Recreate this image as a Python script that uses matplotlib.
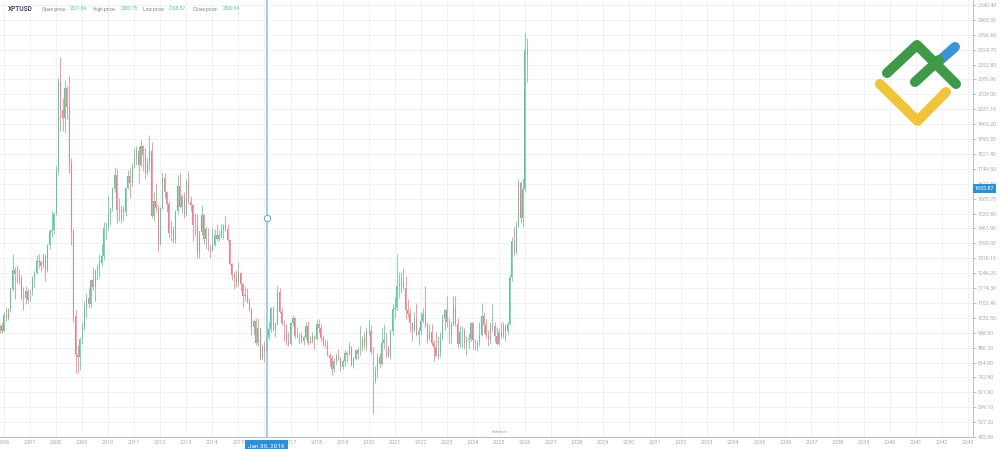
import matplotlib
matplotlib.use("Agg")
import matplotlib.pyplot as plt
import numpy as np

# ---------------- data (monthly OHLC, Nov 2005 .. Feb 2026) ----------------
start_year, start_month = 2005, 11
opens = [962, 990,
 968, 1045, 1030, 1075, 1170, 1260, 1240, 1225, 1215, 1130, 1125, 1160,
 1118, 1160, 1225, 1245, 1305, 1300, 1280, 1330, 1260, 1380, 1450, 1455,
 1530, 1740, 2170, 2035, 1995, 2140, 2050, 1780, 1450, 1040, 850, 840,
 930, 985, 1080, 1125, 1095, 1215, 1180, 1255, 1265, 1295, 1330, 1465,
 1465, 1530, 1560, 1650, 1720, 1550, 1535, 1555, 1540, 1655, 1715, 1680,
 1760, 1800, 1835, 1770, 1860, 1815, 1730, 1780, 1835, 1520, 1595, 1560,
 1385, 1560, 1705, 1640, 1580, 1440, 1450, 1405, 1545, 1665, 1565, 1620,
 1530, 1680, 1590, 1575, 1480, 1475, 1345, 1445, 1525, 1410, 1460, 1365,
 1360, 1380, 1430, 1410, 1430, 1455, 1480, 1460, 1405, 1290, 1235, 1220,
 1205, 1245, 1195, 1135, 1140, 1105, 1075, 985, 1015, 910, 980, 835,
 890, 870, 940, 975, 1080, 970, 1000, 1155, 1060, 1005, 975, 920,
 905, 1005, 1030, 945, 945, 945, 920, 940, 990, 910, 920, 945,
 930, 1000, 980, 935, 900, 900, 850, 835, 785, 820, 845, 835,
 795, 820, 860, 850, 890, 805, 830, 875, 855, 890, 930, 895,
 965, 965, 865, 725, 775, 840, 810, 910, 925, 885, 845, 965,
 1075, 1080, 1185, 1195, 1205, 1175, 1070, 1050, 1005, 965, 1025, 950,
 965, 1015, 1050, 990, 930, 960, 910, 890, 845, 860, 935, 1025,
 1070, 1010, 950, 1000, 1085, 1000, 905, 960, 965, 910, 925, 930,
 1005, 925, 885, 915, 950, 1040, 995, 950, 930, 985, 990, 945,
 905, 960, 945, 990, 965, 1000, 1226, 1400, 1350, 1480, 1680, 1510,
 1650, 2321]
highs = [1002, 1012,
 1060, 1085, 1080, 1180, 1340, 1275, 1285, 1265, 1235, 1180, 1185, 1175,
 1170, 1230, 1255, 1335, 1340, 1310, 1345, 1340, 1385, 1460, 1545, 1540,
 1765, 2190, 2290, 2090, 2180, 2150, 2200, 1800, 1460, 1070, 900, 940,
 1010, 1110, 1150, 1175, 1220, 1275, 1265, 1290, 1340, 1385, 1495, 1495,
 1625, 1565, 1660, 1760, 1750, 1610, 1575, 1570, 1660, 1745, 1755, 1780,
 1850, 1860, 1860, 1890, 1865, 1850, 1800, 1915, 1880, 1640, 1680, 1580,
 1565, 1735, 1730, 1645, 1595, 1505, 1475, 1550, 1720, 1730, 1630, 1640,
 1700, 1740, 1620, 1580, 1535, 1530, 1455, 1575, 1530, 1475, 1465, 1380,
 1470, 1460, 1485, 1455, 1490, 1485, 1520, 1485, 1410, 1295, 1250, 1260,
 1300, 1250, 1200, 1185, 1175, 1125, 1080, 1025, 1030, 1025, 985, 905,
 920, 975, 1010, 1085, 1090, 1010, 1190, 1175, 1080, 1020, 1000, 960,
 1010, 1045, 1035, 985, 955, 960, 950, 1010, 1015, 945, 960, 950,
 1020, 1025, 1000, 950, 930, 925, 860, 850, 835, 860, 880, 840,
 830, 875, 870, 915, 895, 840, 880, 890, 990, 945, 960, 980,
 1020, 995, 890, 800, 860, 860, 980, 1000, 960, 900, 975, 1095,
 1130, 1340, 1250, 1250, 1270, 1230, 1120, 1080, 1010, 1060, 1100, 985,
 1060, 1080, 1185, 1010, 1000, 1000, 925, 960, 945, 960, 1050, 1075,
 1135, 1030, 1015, 1135, 1135, 1030, 990, 990, 980, 945, 955, 1010,
 1010, 930, 925, 1010, 1100, 1060, 1025, 970, 1010, 1095, 1010, 985,
 980, 1010, 1010, 1000, 1010, 1240, 1420, 1467, 1500, 1700, 1690, 1705,
 2412, 2380]
lows = [955, 955,
 962, 1015, 1020, 1060, 1160, 1120, 1200, 1195, 1115, 1070, 1095, 1100,
 1110, 1140, 1180, 1240, 1270, 1255, 1270, 1210, 1250, 1365, 1420, 1435,
 1525, 1720, 1930, 1930, 1925, 1990, 1730, 1380, 1010, 765, 763, 780,
 905, 970, 1030, 1080, 1085, 1165, 1110, 1215, 1225, 1280, 1310, 1410,
 1455, 1480, 1545, 1640, 1490, 1500, 1490, 1500, 1520, 1650, 1610, 1665,
 1760, 1770, 1680, 1760, 1740, 1700, 1720, 1740, 1510, 1500, 1540, 1350,
 1380, 1555, 1610, 1540, 1420, 1400, 1390, 1390, 1530, 1560, 1535, 1510,
 1520, 1580, 1545, 1400, 1425, 1320, 1320, 1430, 1385, 1365, 1355, 1320,
 1355, 1375, 1400, 1400, 1415, 1410, 1450, 1400, 1285, 1215, 1170, 1180,
 1185, 1160, 1085, 1110, 1100, 1065, 950, 950, 900, 895, 828, 830,
 815, 860, 925, 960, 965, 940, 995, 1055, 995, 920, 900, 895,
 900, 990, 935, 935, 905, 910, 900, 930, 900, 905, 910, 880,
 925, 955, 920, 895, 885, 845, 800, 755, 770, 810, 825, 775,
 785, 800, 815, 850, 800, 790, 825, 830, 850, 870, 880, 870,
 950, 855, 565, 715, 740, 790, 805, 880, 835, 840, 830, 950,
 1030, 1070, 1125, 1150, 1170, 1025, 1035, 960, 920, 960, 945, 900,
 950, 1005, 985, 910, 925, 900, 820, 840, 830, 840, 925, 970,
 985, 910, 905, 990, 990, 885, 890, 885, 880, 850, 880, 920,
 880, 875, 870, 895, 945, 955, 935, 895, 905, 960, 915, 900,
 900, 935, 935, 920, 950, 995, 1210, 1330, 1340, 1470, 1490, 1467,
 1640, 2168]
closes = [990, 968,
 1045, 1030, 1075, 1170, 1260, 1240, 1225, 1215, 1130, 1125, 1160, 1118,
 1160, 1225, 1245, 1305, 1300, 1280, 1330, 1260, 1380, 1450, 1455, 1530,
 1740, 2170, 2035, 1995, 2140, 2050, 1780, 1450, 1040, 850, 840, 930,
 985, 1080, 1125, 1095, 1215, 1180, 1255, 1265, 1295, 1330, 1465, 1465,
 1530, 1560, 1650, 1720, 1550, 1535, 1555, 1540, 1655, 1715, 1680, 1760,
 1800, 1835, 1770, 1860, 1815, 1730, 1780, 1835, 1520, 1595, 1560, 1385,
 1560, 1705, 1640, 1580, 1440, 1450, 1405, 1545, 1665, 1565, 1620, 1530,
 1680, 1590, 1575, 1480, 1475, 1345, 1445, 1525, 1410, 1460, 1365, 1360,
 1380, 1430, 1410, 1430, 1455, 1480, 1460, 1405, 1290, 1235, 1220, 1205,
 1245, 1195, 1135, 1140, 1105, 1075, 985, 1015, 910, 980, 835, 890,
 870, 940, 975, 1080, 970, 1000, 1155, 1060, 1005, 975, 920, 905,
 1005, 1030, 945, 945, 945, 920, 940, 990, 910, 920, 945, 930,
 1000, 980, 935, 900, 900, 850, 835, 785, 820, 845, 835, 795,
 820, 860, 850, 890, 805, 830, 875, 855, 890, 930, 895, 965,
 965, 865, 725, 775, 840, 810, 910, 925, 885, 845, 965, 1075,
 1080, 1185, 1195, 1205, 1175, 1070, 1050, 1005, 965, 1025, 950, 965,
 1015, 1050, 990, 930, 960, 910, 890, 845, 860, 935, 1025, 1070,
 1010, 950, 1000, 1085, 1000, 905, 960, 965, 910, 925, 930, 1005,
 925, 885, 915, 950, 1040, 995, 950, 930, 985, 990, 945, 905,
 960, 945, 990, 965, 1000, 1226, 1400, 1350, 1480, 1680, 1510, 1650,
 2321, 2300]

y_ticks = [455.30, 527.20, 599.10, 671.00, 742.90, 814.80, 886.70, 958.60,
           1030.50, 1102.40, 1174.30, 1246.20, 1318.10, 1390.00, 1461.90,
           1533.80, 1605.70, 1677.60, 1749.50, 1821.40, 1893.30, 1965.20,
           2037.10, 2109.00, 2180.90, 2252.80, 2324.70, 2396.60, 2468.50,
           2540.40]
year_ticks = list(range(2006, 2044))
symbol = "XPTUSD"
header_vals = [("Open price:", "2321.84"), ("High price:", "2380.75"),
               ("Low price:", "2168.82"), ("Close price:", "2300.34")]
cross_date_label = "Jan 30, 2016"
cross_t = 2016 + 29 / 366
cross_price = 1511.0
price_label = 1655.87

# ---------------- figure ----------------
W, H = 1000, 449
plt.rcParams["font.family"] = ["Roboto", "DejaVu Sans"]
fig = plt.figure(figsize=(W / 100, H / 100), dpi=100)
fig.patch.set_facecolor("white")
ax = fig.add_axes([0, 12 / H, 973 / W, 437 / H])
ax.set_facecolor("white")

n = len(closes)
t = np.array([start_year + (start_month - 1 + i) / 12.0 for i in range(n)])
o = np.array(opens, float)
h = np.array(highs, float)
l = np.array(lows, float)
c = np.array(closes, float)
up = c >= o
up_col, dn_col = "#62c79d", "#f0808c"
cols = np.where(up, up_col, dn_col)

ax.vlines(t, l, h, colors=cols, linewidth=0.55, zorder=3)
body_bot = np.minimum(o, c)
body_h = np.maximum(np.abs(c - o), 3)
ax.bar(t, body_h, bottom=body_bot, width=0.036, color=cols,
       linewidth=0, zorder=4)

ax.set_xlim(2005.848, 2043.2)
ax.set_ylim(455.3, 2564.6)

# grid
for yv in y_ticks:
    ax.axhline(yv, color="#eef1f4", linewidth=0.6, zorder=0)
for yr in year_ticks:
    ax.axvline(yr, color="#eef1f4", linewidth=0.6, zorder=0)

# axes styling
for s in ["top", "left"]:
    ax.spines[s].set_visible(False)
ax.spines["right"].set_color("#b9c0c7")
ax.spines["bottom"].set_color("#b9c0c7")
ax.spines["right"].set_linewidth(0.8)
ax.spines["bottom"].set_linewidth(0.8)
ax.yaxis.tick_right()
ax.set_yticks(y_ticks)
ax.set_yticklabels([f"{v:.2f}" for v in y_ticks])
ax.tick_params(axis="y", labelsize=3.8, colors="#a3abb3", length=2.2,
               width=0.5, pad=1.0)
ax.set_xticks([yr for yr in year_ticks if yr != 2016])
ax.set_xticklabels([str(yr) for yr in year_ticks if yr != 2016])
ax.tick_params(axis="x", labelsize=4.0, colors="#a3abb3", length=0, pad=2.5)

# crosshair
ax.axvline(cross_t, color="#86bedf", linewidth=1.1, zorder=6)
ax.plot([cross_t], [cross_price], marker="o", markersize=4.5,
        markerfacecolor="white", markeredgecolor="#6fb0d8",
        markeredgewidth=0.8, zorder=7)
ax.annotate(cross_date_label, xy=(cross_t, 0), xycoords=("data", "axes fraction"),
            xytext=(0, -6.3), textcoords="offset points", ha="center", va="center",
            fontsize=4.6, color="white", zorder=10, annotation_clip=False,
            bbox=dict(boxstyle="square,pad=0.5", fc="#2f8fd5", ec="none"))
ax.annotate(f"{price_label:.2f}", xy=(1, price_label), xycoords=("axes fraction", "data"),
            xytext=(1.5, 0), textcoords="offset points", ha="left", va="center",
            fontsize=3.9, color="white", zorder=10, annotation_clip=False,
            bbox=dict(boxstyle="square,pad=0.35", fc="#2f8fd5", ec="none"))

# header
fig.text(8 / W, 1 - 9 / H, symbol, fontsize=4.8, fontweight="bold",
         color="#4a5561", va="center", ha="left")
xpos = [42, 93, 143, 193]
for (lab, val), xp in zip(header_vals, xpos):
    fig.text(xp / W, 1 - 9 / H, lab, fontsize=3.4, color="#7d8791",
             va="center", ha="left")
    fig.text((xp + len(lab) * 2.35 + 2) / W, 1 - 9 / H, val, fontsize=3.4,
             color="#62c39b", va="center", ha="left")

# logo (drawn in pixel coords on an overlay axes)
lax = fig.add_axes([0, 0, 1, 1], facecolor="none")
lax.set_xlim(0, W)
lax.set_ylim(H, 0)
lax.axis("off")
kw = dict(linewidth=7.2, solid_capstyle="round", solid_joinstyle="round")
lax.plot([880, 917.5, 946], [84, 121, 92], color="#f0c53c", **kw)
lax.plot([938, 955], [62, 47], color="#3d93d8", **kw)
lax.plot([887, 917, 956], [73, 45, 84], color="#3e9a48", **kw)
lax.plot([915, 939], [82, 60], color="#3e9a48", **kw)
lax.text(500, 432, "LiteFinance", fontsize=2.2, color="#6fbf5a",
         ha="center", va="center")

fig.savefig("out.png", dpi=100, facecolor="white")
